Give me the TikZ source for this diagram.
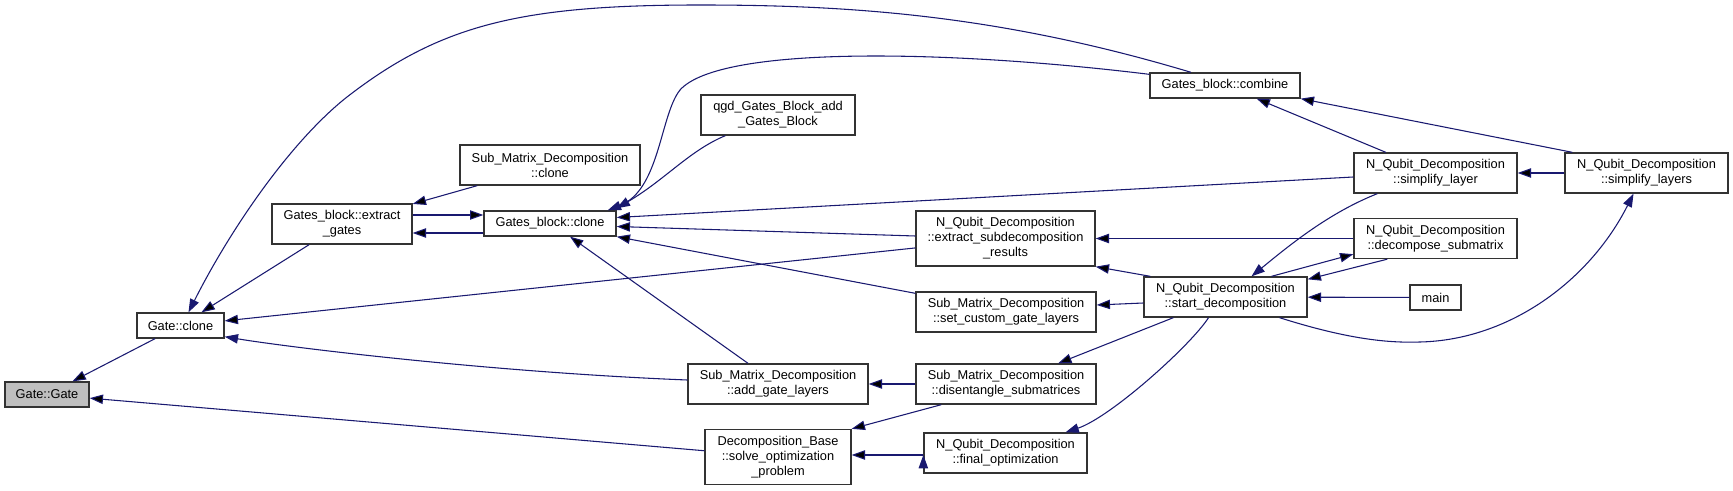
\documentclass[tikz,border=0pt]{standalone}
\usepackage{fontspec}
\setmainfont{Liberation Sans}
\usetikzlibrary{arrows.meta,calc}
\definecolor{edgeblue}{RGB}{25,25,112}
\definecolor{rootgray}{RGB}{191,191,191}
\newcommand\fnfont{\fontsize{9.6}{11.25}\selectfont}
\tikzset{
  fn/.style={draw=black!80, line width=1pt, fill=white, inner sep=0pt,
    align=center, font=\fnfont, minimum height=18.75pt, minimum width=#1*0.75pt},
  two/.style={minimum height=30pt},
  three/.style={minimum height=41.25pt},
  call/.style={draw=edgeblue, line width=0.8pt, -{Triangle[length=10pt,width=7pt]}}
}
\begin{document}
\begin{tikzpicture}[x=0.75pt, y=-0.75pt]
        \useasboundingbox (0, 0) rectangle (1733, 491);

        \node[fn=84, fill=rootgray] at (47, 394.5)(gate){Gate::Gate};
        \node[fn=87] at (180.5, 325.5)(gclone){Gate::clone};
        \node[fn=140, two] at (342, 224)(extract){Gates\_block::extract\\\_gates};
        \node[fn=180, two] at (550, 165)(smdclone){Sub\_Matrix\_Decomposition\\::clone};
        \node[fn=132] at (550, 223.5)(gbclone){Gates\_block::clone};
        \node[fn=154, two] at (778, 115)(qgd){qgd\_Gates\_Block\_add\\\_Gates\_Block};
        \node[fn=179, three] at (1005.5, 238.5)(subres){N\_Qubit\_Decomposition\\::extract\_subdecomposition\\\_results};
        \node[fn=180, two] at (1006, 312)(custom){Sub\_Matrix\_Decomposition\\::set\_custom\_gate\_layers};
        \node[fn=180, two] at (778, 384)(addgl){Sub\_Matrix\_Decomposition\\::add\_gate\_layers};
        \node[fn=180, two] at (1006, 384)(disent){Sub\_Matrix\_Decomposition\\::disentangle\_submatrices};
        \node[fn=146, three] at (778, 457)(solve){Decomposition\_Base\\::solve\_optimization\\\_problem};
        \node[fn=163, two] at (1005.5, 453)(finalopt){N\_Qubit\_Decomposition\\::final\_optimization};
        \node[fn=150] at (1225, 85.5)(combine){Gates\_block::combine};
        \node[fn=163, two] at (1225.5, 297)(start){N\_Qubit\_Decomposition\\::start\_decomposition};
        \node[fn=163, two] at (1435.5, 173)(slayer){N\_Qubit\_Decomposition\\::simplify\_layer};
        \node[fn=163, two] at (1435.5, 238.5)(decomp){N\_Qubit\_Decomposition\\::decompose\_submatrix};
        \node[fn=51] at (1435.5, 297.5)(main){main};
        \node[fn=163, two] at (1646.5, 173)(slayers){N\_Qubit\_Decomposition\\::simplify\_layers};

        \path[call]
        (gclone)edge(gate)
        (solve)edge(gate)
        (extract)edge(gclone)
        (subres)edge(gclone)
        (smdclone)edge(extract)
        ($(extract.east)+(0,-9)$)edge($(gbclone.west)+(0,-8.5)$)
        ($(gbclone.west)+(0,9.5)$)edge($(extract.east)+(0,9)$)
        ($(slayer.west)+(0,4)$)edge($(gbclone.east)+(0,-6)$)
        ($(subres.west)+(0,-2.5)$)edge($(gbclone.east)+(0,3)$)
        ($(custom.north west)+(0,2)$)edge(gbclone.south east)
        ($(addgl.north)+(-30,0)$)edge($(gbclone.south)+(20,0)$)
        (slayer)edge(combine)
        ($(slayers.north west)+(8,0)$)edge(combine.south east)
        (slayers)edge(slayer)
        ($(decomp.south west)+(34,0)$)edge($(start.north east)+(0,3)$)
        ($(start.north)+(46,0)$)edge($(decomp.south west)+(0,-5)$)
        (decomp)edge(subres)
        ($(start.north west)+(7,0)$)edge(subres.south east)
        ($(start.west)+(0,6)$)edge($(custom.east)+(0,-7)$)
        (main)edge(start)
        (start)edge(disent)
        (disent)edge(addgl)
        ($(disent.south west)+(26,0)$)edge(solve.north east)
        ($(finalopt.west)+(0,2)$)edge($(solve.east)+(0,-2)$)
        ;

        % curved calls
        \draw[call] ($(combine.north)+(-34,0)$) .. controls (1000, 15) and (850, 5) .. (700, 5)
          .. controls (520, 5) and (440, 25) .. (347, 97)
          .. controls (290, 142) and (230, 230) .. ($(gclone.north)+(8,0)$);
        \draw[call] ($(combine.north west)+(0,2)$) .. controls (950, 50) and (720, 45) .. (680, 90)
          .. controls (660, 115) and (660, 190) .. ($(gbclone.north east)+(-9,0)$);
        \draw[call] ($(qgd.south west)+(25,0)$) .. controls +(-36,15) and +(49,-29) .. ($(gbclone.north east)+(0,-2)$);
        \draw[call] ($(addgl.west)+(0,-4)$) .. controls +(-200,-8) and +(60,10) .. ($(gclone.south east)+(0,-2)$);
        \draw[call] ($(slayer.south west)+(24,0)$) .. controls +(-48,19) and +(39,-32) .. ($(start.north)+(26,0)$);
        \draw[call] ($(start.south)+(54,0)$) .. controls (1350, 340) and (1390, 343) .. (1420, 342)
          .. controls (1510, 340) and (1590, 280) .. ($(slayers.south)+(-13,0)$);
        \draw[call] ($(start.south)+(-17,0)$) .. controls +(-18,28) and +(45,-15) .. ($(finalopt.north)+(60,0)$);
    \end{tikzpicture}
\end{document}
